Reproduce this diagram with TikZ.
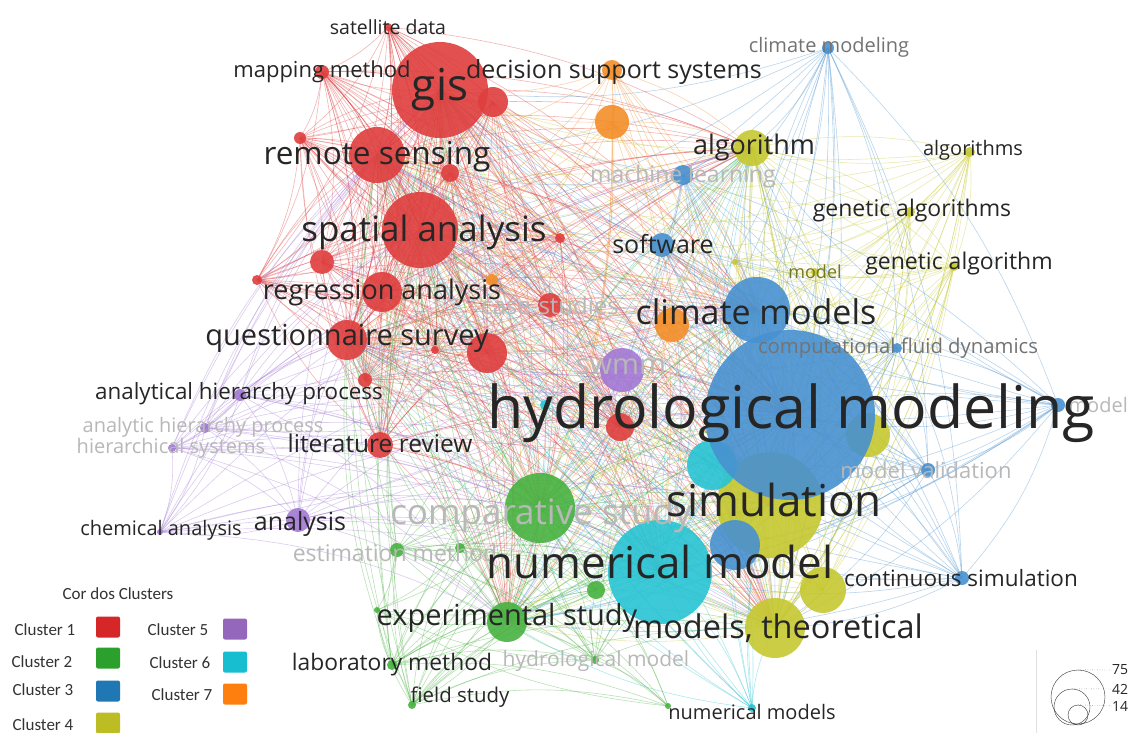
\documentclass[tikz,border=0pt]{standalone}
\usepackage{fontspec}
\setmainfont{Open Sans}
\newfontfamily\legfont{Carlito}
\usetikzlibrary{backgrounds}

\definecolor{cRed}{RGB}{223,62,62}
\definecolor{cGreen}{RGB}{72,178,64}
\definecolor{cBlue}{RGB}{72,145,208}
\definecolor{cYellow}{RGB}{198,200,48}
\definecolor{cPurple}{RGB}{162,120,212}
\definecolor{cCyan}{RGB}{40,196,212}
\definecolor{cOrange}{RGB}{243,142,40}
\definecolor{lRed}{RGB}{214,39,40}
\definecolor{lGreen}{RGB}{44,160,44}
\definecolor{lBlue}{RGB}{31,119,180}
\definecolor{lYellow}{RGB}{188,189,34}
\definecolor{lPurple}{RGB}{148,103,189}
\definecolor{lCyan}{RGB}{23,190,207}
\definecolor{lOrange}{RGB}{255,127,14}

\begin{document}
\begin{tikzpicture}[x=1pt, y=-1pt,
    kw/.style={circle, inner sep=0pt, draw=none, fill opacity=0.9, minimum size=#1},
    lbl/.style={font=\fontsize{#1}{#1}\selectfont, text=black!85, inner sep=0pt},
    fnt/.style={font=\fontsize{#1}{#1}\selectfont, text=black!28, inner sep=0pt},
    mid/.style={font=\fontsize{#1}{#1}\selectfont, text=black!55, inner sep=0pt},
    edge/.style={line width=0.6pt, opacity=0.38},
    legtext/.style={font=\legfont\fontsize{17}{17}\selectfont, text=black!80, inner sep=0pt},
    legbox/.style={rounded corners=2pt, minimum width=24pt, minimum height=21pt, inner sep=0pt}]

    \useasboundingbox (0,0) rectangle (1130,733);

    % cluster 1
    \node[kw=12, fill=cRed] (r1) at (300,138) {};
    \node[kw=30, fill=cRed] (r2) at (493,102) {};
    \node[kw=18, fill=cRed] (r3) at (450,173) {};
    \node[kw=24, fill=cRed] (r4) at (322,262) {};
    \node[kw=10, fill=cRed] (r5) at (257,280) {};
    \node[kw=40, fill=cRed] (r6) at (487,353) {};
    \node[kw=14, fill=cRed] (r7) at (365,380) {};
    \node[kw=8, fill=cRed] (r8) at (435,350) {};
    \node[kw=28, fill=cRed] (r9) at (620,427) {};
    \node[kw=10, fill=cRed] (r10) at (560,238) {};
    \node[kw=8, fill=cRed] (satd) at (388,27) {};
    \node[kw=14, fill=cRed] (mapm) at (322,72) {};
    \node[kw=96, fill=cRed] (gis) at (440,90) {};
    \node[kw=56, fill=cRed] (rsen) at (377,155) {};
    \node[kw=76, fill=cRed] (span) at (420,230) {};
    \node[kw=40, fill=cRed] (regr) at (382,292) {};
    \node[kw=40, fill=cRed] (qsur) at (347,340) {};
    \node[kw=26, fill=cRed] (litr) at (380,445) {};
    \node[kw=24, fill=cRed] (case) at (550,305) {};
    % cluster 7
    \node[kw=20, fill=cOrange] (dss) at (612,70) {};
    \node[kw=34, fill=cOrange] (o1) at (612,122) {};
    \node[kw=34, fill=cOrange] (o2) at (672,325) {};
    \node[kw=12, fill=cOrange] (o3) at (492,280) {};
    % cluster 5
    \node[kw=44, fill=cPurple] (swmm) at (622,370) {};
    \node[kw=12, fill=cPurple] (ahp1) at (240,395) {};
    \node[kw=10, fill=cPurple] (ahp2) at (205,428) {};
    \node[kw=8, fill=cPurple] (hsys) at (172,448) {};
    \node[kw=24, fill=cPurple] (anal) at (298,520) {};
    \node[kw=6, fill=cPurple] (chem) at (160,532) {};
    % cluster 2
    \node[kw=70, fill=cGreen] (comp) at (540,508) {};
    \node[kw=40, fill=cGreen] (expe) at (507,622) {};
    \node[kw=10, fill=cGreen] (labm) at (392,665) {};
    \node[kw=8, fill=cGreen] (fiel) at (412,705) {};
    \node[kw=14, fill=cGreen] (estm) at (397,550) {};
    \node[kw=8, fill=cGreen] (hmod) at (595,660) {};
    \node[kw=10, fill=cGreen] (g1) at (460,548) {};
    \node[kw=18, fill=cGreen] (g2) at (596,590) {};
    \node[kw=6, fill=cGreen] (g3) at (668,706) {};
    \node[kw=6, fill=cGreen] (g4) at (377,610) {};
    % cluster 4
    \node[kw=36, fill=cYellow] (algo) at (752,148) {};
    \node[kw=10, fill=cYellow] (algs) at (970,152) {};
    \node[kw=10, fill=cYellow] (gena) at (910,212) {};
    \node[kw=10, fill=cYellow] (gen1) at (954,266) {};
    \node[kw=8, fill=cYellow] (modl) at (815,272) {};
    \node[kw=6, fill=cYellow] (y3) at (735,262) {};
    \node[kw=44, fill=cYellow] (y2) at (868,435) {};
    \node[kw=46, fill=cYellow] (y1) at (823,590) {};
    \node[kw=106, fill=cYellow] (simu) at (770,505) {};
    \node[kw=60, fill=cYellow] (mthe) at (775,628) {};
    % cluster 6
    \node[kw=50, fill=cCyan] (c1) at (712,465) {};
    \node[kw=10, fill=cCyan] (c2) at (545,405) {};
    \node[kw=8, fill=cCyan] (nums) at (752,708) {};
    % cluster 3
    \node[kw=50, fill=cBlue] (b1) at (735,545) {};
    \node[kw=104, fill=cCyan] (numm) at (660,572) {};
    \node[kw=12, fill=cBlue] (clmg) at (828,48) {};
    \node[kw=20, fill=cBlue] (mach) at (683,175) {};
    \node[kw=24, fill=cBlue] (soft) at (662,245) {};
    \node[kw=10, fill=cBlue] (cfd) at (897,348) {};
    \node[kw=14, fill=cBlue] (modr) at (1058,405) {};
    \node[kw=14, fill=cBlue] (mval) at (928,470) {};
    \node[kw=14, fill=cBlue] (csim) at (962,578) {};
    \node[kw=66, fill=cBlue] (clmo) at (757,310) {};
    \node[kw=170, fill=cBlue] (hydm) at (790,415) {};

    % links
    \begin{scope}[on background layer]
    \fill[white] (0,0) rectangle (1130,733);
    \foreach \set/\c in {{gis,satd,mapm,rsen,span,regr,qsur,litr,case,r1,r2,r3,r4,r5,r6,r7,r8,r9,r10}/cRed,
        {dss,o1,o2,o3}/cOrange, {swmm,ahp1,ahp2,hsys,anal,chem}/cPurple,
        {comp,expe,labm,fiel,estm,hmod,g1,g2,g3,g4}/cGreen,
        {algo,algs,gena,gen1,modl,y3,y2,y1,simu,mthe}/cYellow,
        {numm,c1,c2,nums}/cCyan,
        {hydm,clmo,clmg,mach,soft,cfd,modr,mval,csim,b1}/cBlue} {
        \foreach \a [count=\i] in \set {
            \foreach \b [count=\j] in \set {
                \ifnum\j>\i \draw[edge, \c] (\a.center) to[bend left=12] (\b.center); \fi
            }
        }
    }
    \foreach \a/\c in {gis/cRed, satd/cRed, mapm/cRed, rsen/cRed, span/cRed, regr/cRed,
        qsur/cRed, litr/cRed, case/cRed, r1/cRed, r2/cRed, r3/cRed, r4/cRed, r5/cRed,
        r6/cRed, r7/cRed, r8/cRed, r9/cRed, r10/cRed, dss/cOrange, o1/cOrange,
        o2/cOrange, o3/cOrange, hydm/cBlue, clmo/cBlue, clmg/cBlue, mach/cBlue,
        soft/cBlue, cfd/cBlue, modr/cBlue, mval/cBlue, csim/cBlue, b1/cBlue,
        algo/cYellow, algs/cYellow, gena/cYellow, gen1/cYellow, modl/cYellow,
        simu/cYellow, mthe/cYellow, y1/cYellow, y2/cYellow, numm/cCyan, nums/cCyan,
        c1/cCyan, c2/cCyan, comp/cGreen, expe/cGreen, labm/cGreen, fiel/cGreen,
        estm/cGreen, hmod/cGreen, g1/cGreen, g2/cGreen, swmm/cPurple, ahp1/cPurple,
        ahp2/cPurple, hsys/cPurple, anal/cPurple, chem/cPurple} {
        \foreach \h in {gis,span,rsen,hydm,simu,numm,clmo,comp,mthe,algo,expe,qsur} {
            \edef\srcname{\a}\edef\hubname{\h}
            \ifx\srcname\hubname\else
                \draw[edge, \c] (\a.center) to[bend left=12] (\h.center);
            \fi
        }
    }
    \end{scope}

    % labels
    \node[lbl=19.5] (satd-t) at (satd) {satellite data};
    \node[lbl=22] (mapm-t) at (mapm) {mapping method};
    \node[lbl=44] (gis-t) at (gis) {gis};
    \node[lbl=31.5] (rsen-t) at (377,157) {remote sensing};
    \node[lbl=35] (span-t) at (424,232) {spatial analysis};
    \node[lbl=27] (regr-t) at (regr) {regression analysis};
    \node[lbl=29] (qsur-t) at (347,338) {questionnaire survey};
    \node[lbl=24.5] (litr-t) at (380,443) {literature review};
    \node[fnt=24] (case-t) at (case) {case-studies};
    \node[lbl=25] (dss-t) at (614,72) {decision support systems};
    \node[fnt=29] (swmm-t) at (621,367) {swmm};
    \node[lbl=22.4] (ahp1-t) at (239,394) {analytical hierarchy process};
    \node[fnt=20] (ahp2-t) at (203,427) {analytic hierarchy process};
    \node[fnt=20] (hsys-t) at (171,448) {hierarchical systems};
    \node[lbl=25] (anal-t) at (300,524) {analysis};
    \node[lbl=20] (chem-t) at (161,530) {chemical analysis};
    \node[fnt=35] (comp-t) at (541,515) {comparative study};
    \node[lbl=29] (expe-t) at (507,618) {experimental study};
    \node[lbl=22.8] (labm-t) at (labm) {laboratory method};
    \node[lbl=20.4] (fiel-t) at (460,697) {field study};
    \node[fnt=23] (estm-t) at (395,553) {estimation method};
    \node[fnt=21] (hmod-t) at (596,661) {hydrological model};
    \node[lbl=27] (algo-t) at (754,147) {algorithm};
    \node[lbl=20] (algs-t) at (973,150) {algorithms};
    \node[lbl=23] (gena-t) at (912,211) {genetic algorithms};
    \node[lbl=23] (gen1-t) at (959,264) {genetic algorithm};
    \node[fnt=18, text=black!40!cYellow] (modl-t) at (modl) {model};
    \node[lbl=44] (simu-t) at (774,500) {simulation};
    \node[lbl=32.5] (mthe-t) at (778,628) {models, theoretical};
    \node[lbl=44] (numm-t) at (660,562) {numerical model};
    \node[lbl=20] (nums-t) at (752,712) {numerical models};
    \node[mid=20] (clmg-t) at (829,47) {climate modeling};
    \node[fnt=23] (mach-t) at (683,177) {machine learning};
    \node[lbl=25] (soft-t) at (663,244) {software};
    \node[mid=20.3] (cfd-t) at (898,348) {computational fluid dynamics};
    \node[fnt=20, anchor=east] (modr-t) at (1128,405) {model};
    \node[fnt=22] (mval-t) at (926,470) {model validation};
    \node[lbl=22.5] (csim-t) at (961,578) {continuous simulation};
    \node[lbl=34] (clmo-t) at (756,312) {climate models};
    \node[lbl=59] (hydm-t) at (791,413) {hydrological modeling};

    % cluster colours
    \node[legtext] (leg) at (118,594) {Cor dos Clusters};
    \foreach \i/\tx/\ty/\bx/\by/\c in {1/45/630/108/627/lRed, 2/42/662/108/658/lGreen,
        3/43/690/108/691/lBlue, 4/43/725/108/723/lYellow, 5/178/630/235/629/lPurple,
        6/180/663/235/662/lCyan, 7/182/695/235/694/lOrange} {
        \node[legtext] (cl\i) at (\tx,\ty) {Cluster \i};
        \node[legbox, fill=\c] (sq\i) at (\bx,\by) {};
    }

    % size scale
    \draw[black!12] (1036,650) -- (1036,733);
    \node[circle, draw=black!80, minimum size=54, inner sep=0pt] (s75) at (1078,697) {};
    \node[circle, draw=black!80, minimum size=36, inner sep=0pt] (s42) at (1072,707) {};
    \node[circle, draw=black!80, minimum size=20, inner sep=0pt] (s14) at (1078,715) {};
    \node[lbl=14, anchor=west] (t75) at (1112,670) {75};
    \node[lbl=14, anchor=west] (t42) at (1112,689) {42};
    \node[lbl=14, anchor=west] (t14) at (1112,706) {14};
    \draw[dotted, black!70] (s75.north) -- (t75.west);
    \draw[dotted, black!70] (s42.north) -- (t42.west);
    \draw[dotted, black!70] (s14.north) -- (t14.west);
\end{tikzpicture}
\end{document}
